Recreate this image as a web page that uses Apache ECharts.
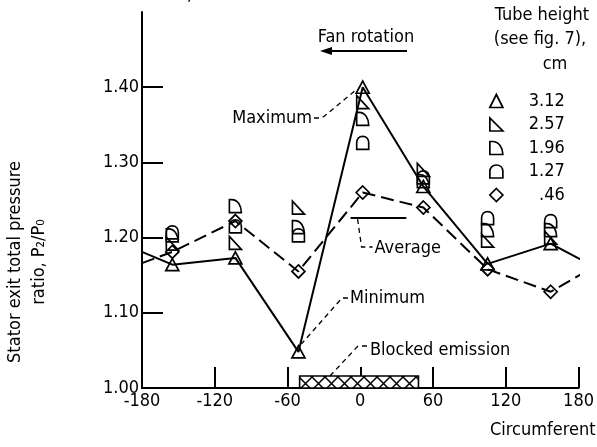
<!DOCTYPE html>
<html><head><meta charset="utf-8">
<script src="https://cdn.jsdelivr.net/npm/echarts@6/dist/echarts.min.js"></script>
<style>html,body{margin:0;padding:0;background:#fff}#c{width:597px;height:447px}</style>
</head><body><div id="c"></div>
<script>
// ---- data ----
const angles   = [-155, -103, -51, 2, 52, 105, 157];            // circumferential position, deg
const tube312  = [1.164, 1.173, 1.048, 1.400, 1.268, 1.165, 1.192]; // 3.12 cm (solid line)
const tube257  = [1.192, 1.193, 1.240, 1.380, 1.290, 1.196, 1.200]; // 2.57 cm
const tube196  = [1.203, 1.242, 1.214, 1.358, 1.275, 1.210, 1.210]; // 1.96 cm
const tube127  = [1.207, 1.215, 1.203, 1.326, 1.280, 1.226, 1.222]; // 1.27 cm
const tube046  = [1.181, 1.222, 1.155, 1.260, 1.240, 1.158, 1.128]; // 0.46 cm (dashed line)
const edgeAngles = [-180, 185];       // where the drawn curves meet the frame
const edge312 = [1.181, 1.168];
const edge046 = [1.166, 1.154];
const blockedRange = [-50, 48];       // blocked emission, deg
const blockedTop = 1.016;
const averageLevel = 1.226;
const averageSpan = [-8, 38];
const xLabelValues = [-180, -120, -60, 0, 60, 120, 180];
const xTickValues = [-120, -60, 0, 60, 120, 180];
const yLabelValues = [1.00, 1.10, 1.20, 1.30, 1.40];
const yTickValues = [1.10, 1.20, 1.30, 1.40];
const seriesNames = ['3.12', '2.57', '1.96', '1.27', '.46'];

const FONT = "'DejaVu Sans Condensed','Liberation Sans Narrow','Roboto Condensed',sans-serif";
const FS = 18;
const RT = 'path://M0,0L0,10L10,10Z';
const DSHAPE = 'path://M0,0L2,0C7,0 10,5 10,10L0,10Z';
const ARCH = 'path://M0,10L0,5C0,2 2,0 5,0C8,0 10,2 10,5L10,10Z';
const hollow = {color: 'rgba(255,255,255,0)', borderColor: '#000', borderWidth: 1.7, opacity: 1};

function pts(vals) { return angles.map((a, i) => [a, vals[i]]); }
function withEdges(vals, edges) {
  return [{value: [edgeAngles[0], edges[0]], symbol: 'none'}]
    .concat(pts(vals))
    .concat([{value: [edgeAngles[1], edges[1]], symbol: 'none'}]);
}

// cross-hatch pattern
const pc = document.createElement('canvas');
pc.width = 13; pc.height = 13;
const g = pc.getContext('2d');
g.fillStyle = '#fff'; g.fillRect(0, 0, 13, 13);
g.strokeStyle = '#000'; g.lineWidth = 1.5;
g.beginPath(); g.moveTo(0, 0); g.lineTo(13, 13); g.moveTo(13, 0); g.lineTo(0, 13); g.stroke();

const chart = echarts.init(document.getElementById('c'), null, {renderer: 'canvas'});
const axisLine = {show: true, onZero: false, lineStyle: {color: '#000', width: 2}};
const labelStyle = {color: '#000', fontSize: FS, fontFamily: FONT};

chart.setOption({
  animation: false,
  backgroundColor: '#fff',
  grid: {left: 142, right: 7, top: 12, bottom: 59},
  xAxis: {
    type: 'value', min: -180, max: 180, interval: 60,
    axisLine: axisLine,
    axisTick: {show: true, inside: true, length: 21, customValues: xTickValues, lineStyle: {color: '#000', width: 2}},
    axisLabel: Object.assign({customValues: xLabelValues, margin: 4}, labelStyle),
    splitLine: {show: false}
  },
  yAxis: {
    type: 'value', min: 1.0, max: 1.5, interval: 0.1,
    axisLine: axisLine,
    axisTick: {show: true, inside: true, length: 21, customValues: yTickValues, lineStyle: {color: '#000', width: 2}},
    axisLabel: Object.assign({customValues: yLabelValues, margin: 3, formatter: v => v.toFixed(2)}, labelStyle),
    splitLine: {show: false}
  },
  legend: {
    orient: 'vertical', left: 484, top: 87, itemWidth: 13, itemHeight: 13, itemGap: 5.5,
    selectedMode: false,
    data: [
      {name: '3.12', icon: 'triangle'}, {name: '2.57', icon: RT}, {name: '1.96', icon: DSHAPE},
      {name: '1.27', icon: ARCH}, {name: '.46', icon: 'diamond'}
    ],
    itemStyle: {color: 'rgba(255,255,255,0)', borderColor: '#000', borderWidth: 1.7},
    formatter: n => '{n|' + n + '}',
    textStyle: {color: '#000', fontSize: FS, fontFamily: FONT, lineHeight: 18,
      rich: {n: {width: 57, align: 'right', fontSize: FS, fontFamily: FONT, color: '#000'}}}
  },
  series: [
    {
      name: seriesNames[0], type: 'line', data: withEdges(tube312, edge312), clip: false,
      symbol: 'triangle', symbolSize: [13, 12], itemStyle: hollow,
      lineStyle: {color: '#000', width: 2}, z: 5,
      markArea: {
        silent: true,
        itemStyle: {color: {image: pc, repeat: 'repeat'}, borderColor: '#000', borderWidth: 1.6},
        data: [[{coord: [blockedRange[0], 1.0]}, {coord: [blockedRange[1], blockedTop]}]]
      }
    },
    {name: seriesNames[1], type: 'scatter', data: pts(tube257), symbol: RT, symbolSize: [12, 13], itemStyle: hollow},
    {name: seriesNames[2], type: 'scatter', data: pts(tube196), symbol: DSHAPE, symbolSize: [12, 13], itemStyle: hollow},
    {name: seriesNames[3], type: 'scatter', data: pts(tube127), symbol: ARCH, symbolSize: [12, 13], itemStyle: hollow},
    {
      name: seriesNames[4], type: 'line', data: withEdges(tube046, edge046), clip: false,
      symbol: 'diamond', symbolSize: [13, 13], itemStyle: hollow,
      lineStyle: {color: '#000', width: 2, type: [13, 6]}, z: 4,
      markLine: {
        silent: true, symbol: 'none', label: {show: false},
        lineStyle: {color: '#000', width: 2, type: 'solid'},
        data: [[{coord: [averageSpan[0], averageLevel]}, {coord: [averageSpan[1], averageLevel]}]]
      }
    }
  ]
});

// ---- annotations placed relative to the data ----
const px = p => chart.convertToPixel({gridIndex: 0}, p);
const peak = px([angles[3], tube312[3]]);
const minP = px([angles[2], tube312[2]]);
const blk = px([-25, blockedTop]);
const avgL = px([averageSpan[0], averageLevel]);
const dash = {stroke: '#000', lineWidth: 1.3, lineDash: [5, 4], fill: null};
const txt = (x, y, s, align, extra, rot) => ({type: 'text', x: x, y: y, rotation: rot || 0,
  style: Object.assign({text: s, fill: '#000', font: FS + 'px ' + FONT, textAlign: align || 'left', textVerticalAlign: 'middle'}, extra || {})});

chart.setOption({
  graphic: [
    txt(177, 4, 'θ, max', 'left', {textVerticalAlign: 'bottom'}),
    txt(366, 37, 'Fan rotation', 'center'),
    {type: 'line', shape: {x1: 407, y1: 51, x2: 326, y2: 51}, style: {stroke: '#000', lineWidth: 2}},
    {type: 'polygon', shape: {points: [[320, 51], [332, 47], [332, 55]]}, style: {fill: '#000'}},
    txt(542, 15, 'Tube height', 'center'),
    txt(540, 39, '(see fig. 7),', 'center'),
    txt(555, 64, 'cm', 'center'),
    txt(15, 262, 'Stator exit total pressure', 'center', null, Math.PI / 2),
    txt(39, 262, 'ratio, P₂/P₀', 'center', null, Math.PI / 2),
    txt(490, 430, 'Circumferential position, deg', 'left'),
    txt(312, 118, 'Maximum', 'right'),
    {type: 'polyline', shape: {points: [[314, 118], [322, 118], [peak[0] - 7, peak[1] + 3]]}, style: dash},
    txt(350, 298, 'Minimum', 'left'),
    {type: 'polyline', shape: {points: [[348, 298], [342, 298], [minP[0] + 3, minP[1] - 8]]}, style: dash},
    txt(370, 350, 'Blocked emission', 'left'),
    {type: 'polyline', shape: {points: [[367, 346], [358, 346], [blk[0], blk[1]]]}, style: dash},
    {type: 'polyline', shape: {points: [[avgL[0] + 7, avgL[1] + 1], [avgL[0] + 11, 247], [avgL[0] + 22, 247]]}, style: dash},
    txt(avgL[0] + 24, 248, 'Average', 'left')
  ].map(e => Object.assign({z: 100}, e))
});
</script></body></html>
